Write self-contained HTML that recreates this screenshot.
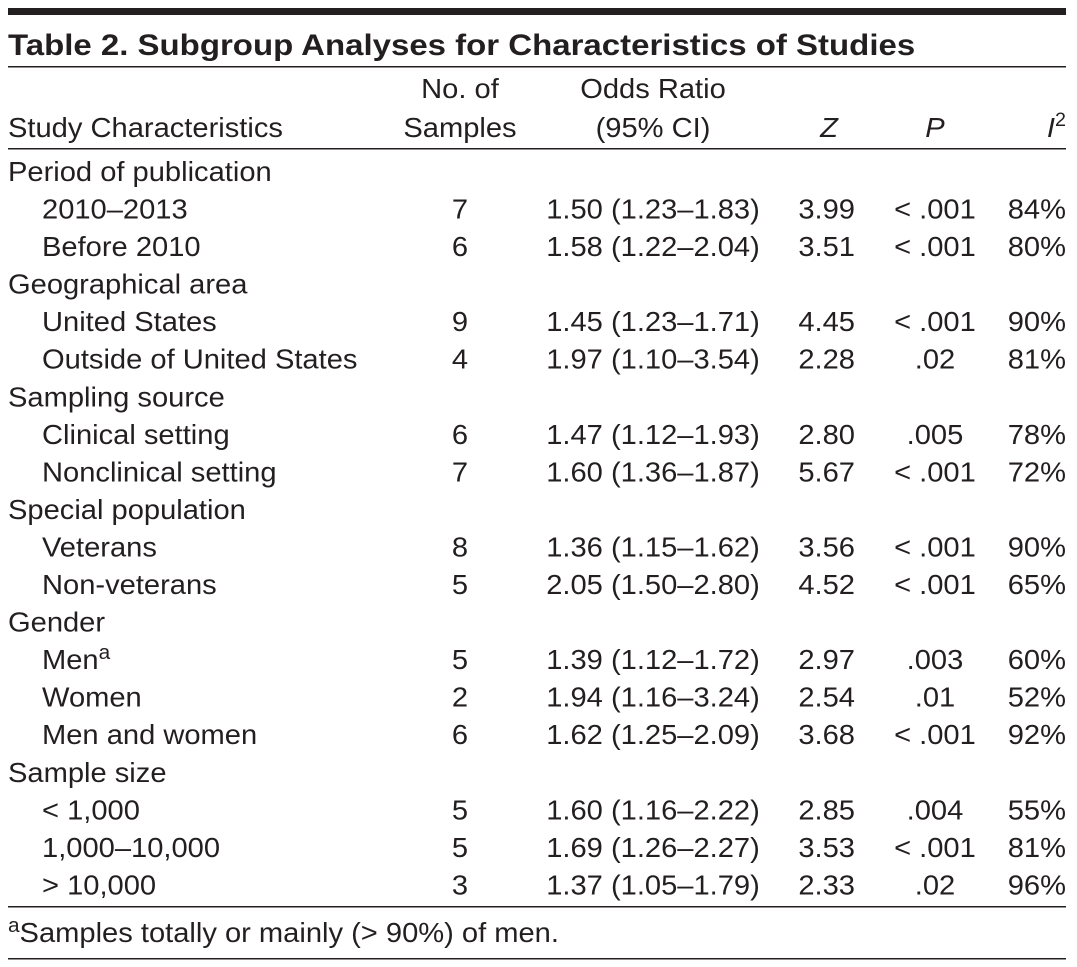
<!DOCTYPE html>
<html><head><meta charset="utf-8"><style>
html,body{margin:0;padding:0;background:#fff;}
svg{display:block;}
text{font-family:"Liberation Sans",sans-serif;fill:#231f20;}
</style></head><body>
<svg width="1077" height="967" viewBox="0 0 1077 967">
<rect x="8" y="8" width="1058" height="7" fill="#231f20"/>
<rect x="8" y="66" width="1058" height="1.5" fill="#231f20"/>
<rect x="8" y="148" width="1058" height="1.5" fill="#231f20"/>
<rect x="8" y="906" width="1058" height="1.5" fill="#231f20"/>
<rect x="8" y="958" width="1058" height="1.5" fill="#231f20"/>
<g transform="scale(1.1,1)">
<text x="7.3" y="55" font-size="30" font-weight="bold">Table 2. Subgroup Analyses for Characteristics of Studies</text>
</g>
<g transform="scale(1.04,1)">
<g font-size="28">
<text x="7.7" y="137">Study Characteristics</text>
<text x="442.3" y="98" text-anchor="middle">No. of</text>
<text x="442.3" y="137" text-anchor="middle">Samples</text>
<text x="627.9" y="98" text-anchor="middle">Odds Ratio</text>
<text x="627.9" y="137" text-anchor="middle">(95% CI)</text>
<text x="797.1" y="137" text-anchor="middle" font-style="italic">Z</text>
<text x="899" y="137" text-anchor="middle" font-style="italic">P</text>
<text x="1025" y="137" text-anchor="end"><tspan font-style="italic">I</tspan><tspan font-size="19" dy="-11">2</tspan></text>
</g>
<g id="rows" font-size="28"></g>
<text x="7.7" y="942" font-size="28"><tspan font-size="20" dy="-10">a</tspan><tspan dy="10">Samples totally or mainly (&gt; 90%) of men.</tspan></text>
</g>
</svg>
<script>
const labels=["Period of publication","2010–2013","Before 2010","Geographical area","United States","Outside of United States","Sampling source","Clinical setting","Nonclinical setting","Special population","Veterans","Non-veterans","Gender","Men","Women","Men and women","Sample size","< 1,000","1,000–10,000","> 10,000"];
const samples=["","7","6","","9","4","","6","7","","8","5","","5","2","6","","5","5","3"];
const ors=["","1.50 (1.23–1.83)","1.58 (1.22–2.04)","","1.45 (1.23–1.71)","1.97 (1.10–3.54)","","1.47 (1.12–1.93)","1.60 (1.36–1.87)","","1.36 (1.15–1.62)","2.05 (1.50–2.80)","","1.39 (1.12–1.72)","1.94 (1.16–3.24)","1.62 (1.25–2.09)","","1.60 (1.16–2.22)","1.69 (1.26–2.27)","1.37 (1.05–1.79)"];
const zs=["","3.99","3.51","","4.45","2.28","","2.80","5.67","","3.56","4.52","","2.97","2.54","3.68","","2.85","3.53","2.33"];
const ps=["","< .001","< .001","","< .001",".02","",".005","< .001","","< .001","< .001","",".003",".01","< .001","",".004","< .001",".02"];
const i2s=["","84%","80%","","90%","81%","","78%","72%","","90%","65%","","60%","52%","92%","","55%","81%","96%"];
const NS="http://www.w3.org/2000/svg";
const g=document.getElementById('rows');
function t(x,y,s,anchor){const e=document.createElementNS(NS,'text');e.setAttribute('x',x);e.setAttribute('y',y);if(anchor)e.setAttribute('text-anchor',anchor);e.textContent=s;g.appendChild(e);return e;}
labels.forEach((l,i)=>{
 const y=181+37.55*i;
 const sub=samples[i]!=="";
 const a=t(sub?40.4:7.7,y,l);
 
 
 if(l==="Men"){const s=document.createElementNS(NS,'tspan');s.setAttribute('font-size','20');s.setAttribute('dy','-10');s.textContent='a';a.appendChild(s);}
 if(!sub)return;
 const b=t(442.3,y,samples[i],'middle');
 const c=t(627.9,y,ors[i],'middle');
 const d=t(822.1,y,zs[i],'end');
 const e=t(899,y,ps[i],'middle');
 const f=t(1025,y,i2s[i],'end');
});
</script>
</body></html>
